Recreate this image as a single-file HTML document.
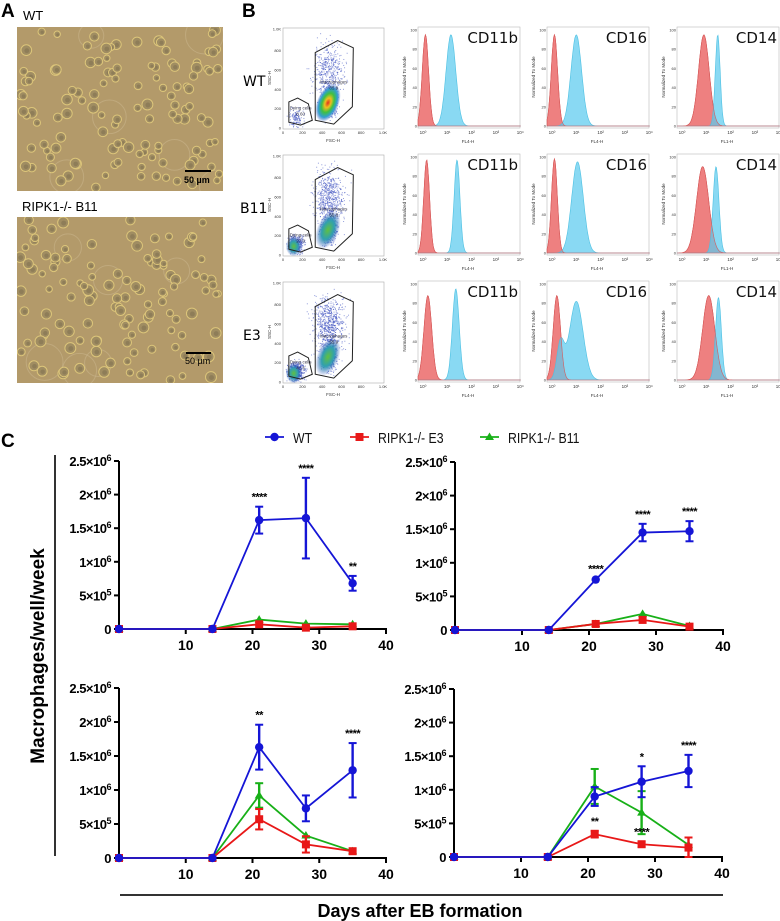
<!DOCTYPE html>
<html><head><meta charset="utf-8">
<style>
html,body{margin:0;padding:0;background:#fff;}
svg{display:block;font-family:"Liberation Sans",sans-serif;}
</style></head>
<body>
<svg id="fig" width="780" height="921" viewBox="0 0 780 921" xmlns="http://www.w3.org/2000/svg">
<defs>
<radialGradient id="jet" cx="50%" cy="50%" r="50%">
<stop offset="0" stop-color="#e03020"/><stop offset="0.25" stop-color="#f0c020"/><stop offset="0.5" stop-color="#40c040"/><stop offset="0.75" stop-color="#30a0d0"/><stop offset="1" stop-color="#3050c0" stop-opacity="0"/>
</radialGradient>
<radialGradient id="jet2" cx="50%" cy="50%" r="50%">
<stop offset="0" stop-color="#60c040"/><stop offset="0.5" stop-color="#30a0b0"/><stop offset="1" stop-color="#3050c0" stop-opacity="0"/>
</radialGradient>
<clipPath id="clipA1"><rect x="17" y="27" width="206" height="164"/></clipPath>
<clipPath id="clipA2"><rect x="17" y="217" width="206" height="166"/></clipPath>
</defs>
<g id="panelA"></g>
<g id="panelB"></g>
<g id="panelC"></g>
</svg>
<script>
// ---- Panel C data (values in units of 1e6 cells) ----
const days = [0, 14, 21, 28, 35];
const yTicks = [0, 0.5, 1, 1.5, 2, 2.5];
const yTickLabels = ["0", "5×10<5>", "1×10<6>", "1.5×10<6>", "2×10<6>", "2.5×10<6>"];
const xTicks = [10, 20, 30, 40];
const seriesNames = ["WT", "RIPK1-/- E3", "RIPK1-/- B11"];

const tlWT = [0, 0, 1.62, 1.65, 0.68];
const tlWTerr = [0, 0, 0.2, 0.6, 0.11];
const tlE3 = [0, 0, 0.07, 0.02, 0.04];
const tlE3err = [0, 0, 0.02, 0.01, 0.01];
const tlB11 = [0, 0, 0.14, 0.08, 0.07];
const tlB11err = [0, 0, 0.02, 0.01, 0.01];

const trWT = [0, 0, 0.75, 1.45, 1.47];
const trWTerr = [0, 0, 0.02, 0.13, 0.15];
const trE3 = [0, 0, 0.09, 0.15, 0.05];
const trE3err = [0, 0, 0.02, 0.02, 0.02];
const trB11 = [0, 0, 0.09, 0.24, 0.06];
const trB11err = [0, 0, 0.01, 0.02, 0.01];

const blWT = [0, 0, 1.63, 0.73, 1.29];
const blWTerr = [0, 0, 0.33, 0.19, 0.4];
const blE3 = [0, 0, 0.57, 0.2, 0.1];
const blE3err = [0, 0, 0.15, 0.12, 0.01];
const blB11 = [0, 0, 0.92, 0.33, 0.1];
const blB11err = [0, 0, 0.18, 0.03, 0.01];

const brWT = [0, 0, 0.9, 1.12, 1.28];
const brWTerr = [0, 0, 0.14, 0.23, 0.24];
const brE3 = [0, 0, 0.34, 0.19, 0.14];
const brE3err = [0, 0, 0.05, 0.04, 0.15];
const brB11 = [0, 0, 1.05, 0.66, 0.18];
const brB11err = [0, 0, 0.26, 0.32, 0.01];

const tlStars = [["WT", 2, "****"], ["WT", 3, "****"], ["WT", 4, "**"]];
const trStars = [["WT", 2, "****"], ["WT", 3, "****"], ["WT", 4, "****"]];
const blStars = [["WT", 2, "**"], ["WT", 4, "****"]];
const brStars = [["WT", 3, "*"], ["WT", 4, "****"], ["E3", 2, "**"], ["E3", 3, "****"]];

const NS = "http://www.w3.org/2000/svg";
function mk(parent, tag, attrs, text) {
  const e = document.createElementNS(NS, tag);
  for (const k in attrs) e.setAttribute(k, attrs[k]);
  if (text !== undefined) e.textContent = text;
  parent.appendChild(e);
  return e;
}
function rng(seed) { let s = seed >>> 0; return () => { s = (s * 1664525 + 1013904223) >>> 0; return s / 4294967296; }; }
function gauss(r) { return (r() + r() + r() + r() - 2) * 1.2; }

// ---------------- Panel A ----------------
const A = document.getElementById('panelA');
let t;
t = mk(A, 'text', {x: 1, y: 17, 'font-size': 19, 'font-weight': 'bold'}, 'A');
 
t = mk(A, 'text', {x: 23, y: 20, 'font-size': 13}, 'WT');
 
t = mk(A, 'text', {x: 22, y: 211, 'font-size': 13}, 'RIPK1-/- B11');
 
function micro(y0, h, seed, name, clip) {
  const g = mk(A, 'g', {'clip-path': 'url(#' + clip + ')'});
   
  mk(g, 'rect', {x: 17, y: y0, width: 206, height: h, fill: '#b39a6a'});
  const r = rng(seed);
  for (let i = 0; i < 6; i++) {
    mk(g, 'circle', {cx: 19 + r() * 200, cy: y0 + r() * h, r: 12 + r() * 8, fill: 'none', stroke: '#c8b48a', 'stroke-width': 1, opacity: 0.6});
  }
  for (let i = 0; i < 120; i++) {
    const cx = 20 + r() * 200, cy = y0 + 3 + r() * (h - 6), rad = 3.2 + r() * 2.3;
    mk(g, 'circle', {cx: cx, cy: cy, r: rad, fill: '#a08d62', stroke: '#dcc57a', 'stroke-width': 1});
    mk(g, 'circle', {cx: cx + 0.5, cy: cy + 0.5, r: rad * 0.45, fill: '#7f7150', opacity: 0.55});
  }
  return g;
}
const m1 = micro(27, 164, 7, 'wt-micrograph', 'clipA1');
mk(m1, 'line', {x1: 185, y1: 171, x2: 211, y2: 171, stroke: '#000', 'stroke-width': 2});
mk(m1, 'text', {x: 184, y: 183, 'font-size': 9, 'font-weight': 'bold'}, '50 µm');
const m2 = micro(217, 166, 21, 'b11-micrograph', 'clipA2');
mk(m2, 'line', {x1: 186, y1: 353, x2: 211, y2: 353, stroke: '#000', 'stroke-width': 2});
mk(m2, 'text', {x: 185, y: 364, 'font-size': 9}, '50 µm');

// ---------------- Panel B ----------------
const B = document.getElementById('panelB');
t = mk(B, 'text', {x: 242, y: 17, 'font-size': 19, 'font-weight': 'bold'}, 'B');
 
const rowTop = [28, 155, 282];
const rowNames = ['WT', 'B11', 'E3'];
const dying = ['8.60', '27.0', '41.6'];
const macro = ['85.9', '65.8', '55.9'];
const histCols = [418, 547, 677];
const markers = ['CD11b', 'CD16', 'CD14'];
const xlab = ['FL4-H', 'FL4-H', 'FL1-H'];
const peaks = [
  [[0.1,0.13,95,1.15,0.2,95],[0.1,0.13,95,1.0,0.22,95],[0.9,0.22,95,1.47,0.1,95]],
  [[0.15,0.12,97,1.4,0.12,97],[0.1,0.12,98,1.05,0.24,95],[0.85,0.25,90,1.4,0.12,90]],
  [[0.2,0.16,88,1.35,0.14,95],[0.2,0.15,88,1.0,0.28,82],[1.1,0.25,88,1.5,0.12,86]]
];
function dotPlot(x0, y0, ri) {
  const g = mk(B, 'g', {});
   
  const X = v => x0 + v / 1024 * 100, Y = v => y0 + 100 - v / 1024 * 99;
  mk(g, 'rect', {x: x0, y: y0, width: 101, height: 101, fill: '#fff', stroke: '#aaa', 'stroke-width': 0.6});
  const r = rng(100 + ri * 17);
  const n = [1100, 1500, 1700][ri];
  for (let i = 0; i < n; i++) {
    let vx, vy, k = r();
    const dyf = [0.12, 0.25, 0.33][ri];
    if (k < dyf) { vx = 130 + gauss(r) * 55; vy = 110 + gauss(r) * 65; }
    else if (k < 0.6) { vx = 470 + gauss(r) * 55; vy = 280 + gauss(r) * 110; }
    else { vx = 460 + gauss(r) * 110; vy = 600 + gauss(r) * 200; }
    if (vx < 0 || vx > 1024 || vy < 0 || vy > 1024) continue;
    mk(g, 'rect', {x: X(vx), y: Y(vy), width: 1, height: 1, fill: '#3a4fc0', opacity: 0.55});
  }
  mk(g, 'ellipse', {cx: X(460), cy: Y(260), rx: 11, ry: 20, fill: ri === 0 ? 'url(#jet)' : 'url(#jet2)', transform: `rotate(22 ${X(460)} ${Y(260)})`});
  if (ri > 0) mk(g, 'ellipse', {cx: X(110), cy: Y(90), rx: 8, ry: 10, fill: 'url(#jet2)'});
  const mac = [[330,780],[560,905],[720,830],[710,220],[520,40],[330,80]];
  const dy = [[60,270],[150,310],[260,250],[300,80],[180,30],[60,60]];
  mk(g, 'polygon', {points: mac.map(p => X(p[0]) + ',' + Y(p[1])).join(' '), fill: 'none', stroke: '#222', 'stroke-width': 1});
  mk(g, 'polygon', {points: dy.map(p => X(p[0]) + ',' + Y(p[1])).join(' '), fill: 'none', stroke: '#222', 'stroke-width': 1});
  mk(g, 'text', {x: X(520), y: Y(460), 'font-size': 4.5, fill: '#334', 'text-anchor': 'middle'}, 'Macrophages');
  mk(g, 'text', {x: X(520), y: Y(400), 'font-size': 4.5, fill: '#334', 'text-anchor': 'middle'}, macro[ri]);
  mk(g, 'text', {x: X(180), y: Y(190), 'font-size': 4.5, fill: '#334', 'text-anchor': 'middle'}, 'Dying cells');
  mk(g, 'text', {x: X(180), y: Y(130), 'font-size': 4.5, fill: '#334', 'text-anchor': 'middle'}, dying[ri]);
  ['0','200','400','600','800','1.0K'].forEach((s, i) => {
    const v = i * 200 * (i === 5 ? 1.024 : 1);
    mk(g, 'text', {x: X(v), y: y0 + 106, 'font-size': 4, 'text-anchor': 'middle', fill: '#333'}, s);
    mk(g, 'text', {x: x0 - 2, y: Y(v) + 1.5, 'font-size': 4, 'text-anchor': 'end', fill: '#333'}, s);
  });
  mk(g, 'text', {x: x0 + 50, y: y0 + 114, 'font-size': 4.5, 'text-anchor': 'middle', fill: '#333'}, 'FSC-H');
  mk(g, 'text', {x: x0 - 12, y: y0 + 50, 'font-size': 4.5, 'text-anchor': 'middle', fill: '#333', transform: `rotate(-90 ${x0 - 12} ${y0 + 50})`}, 'SSC-H');
}
function histo(x0, y0, ri, ci) {
  const g = mk(B, 'g', {});
   
  mk(g, 'rect', {x: x0, y: y0, width: 102, height: 101, fill: '#fff', stroke: '#bbb', 'stroke-width': 0.6});
  const X = L => x0 + 5 + L * 24.3, Y = v => y0 + 99 - v * 0.96;
  const p = peaks[ri][ci];
  function path(c, sd, h, extra) {
    let d = `M${X(-0.2)},${Y(0)}`;
    for (let L = -0.2; L <= 4.02; L += 0.03) {
      let v = h * Math.exp(-0.5 * ((L - c) / sd) ** 2);
      if (extra) v += extra(L);
      d += ` L${X(L).toFixed(1)},${Y(v).toFixed(1)}`;
    }
    return d + ` L${X(4.02)},${Y(0)} Z`;
  }
  const ex = (ri === 2 && ci === 1) ? (L => 38 * Math.exp(-0.5 * ((L - 0.35) / 0.15) ** 2)) : null;
  mk(g, 'path', {d: path(p[0], p[1], p[2]), fill: '#ee8080', stroke: '#d85050', 'stroke-width': 0.6});
  mk(g, 'path', {d: path(p[3], p[4], p[5], ex), fill: '#5ccbee', 'fill-opacity': 0.72, stroke: '#4cc0e2', 'stroke-width': 0.6});
  mk(g, 'path', {d: path(p[0], p[1], p[2]), fill: 'none', stroke: '#d86060', 'stroke-width': 0.6});
  mk(g, 'text', {x: x0 + 100, y: y0 + 16, 'font-size': 15, 'text-anchor': 'end', fill: '#111', 'font-family': 'DejaVu Sans, sans-serif'}, markers[ci]);
  [0,1,2,3,4].forEach(k => {
    mk(g, 'text', {x: X(k), y: y0 + 107, 'font-size': 4.5, 'text-anchor': 'middle', fill: '#333'}, '10' + String.fromCharCode([8304,185,178,179,8308][k]));
  });
  [0,20,40,60,80,100].forEach(v => mk(g, 'text', {x: x0 - 1, y: Y(v) + 1.5, 'font-size': 4, 'text-anchor': 'end', fill: '#333'}, String(v)));
  mk(g, 'text', {x: x0 + 50, y: y0 + 116, 'font-size': 4.5, 'text-anchor': 'middle', fill: '#333'}, xlab[ci]);
  mk(g, 'text', {x: x0 - 12, y: y0 + 50, 'font-size': 4.5, 'text-anchor': 'middle', fill: '#333', transform: `rotate(-90 ${x0 - 12} ${y0 + 50})`}, 'Normalized To Mode');
}
rowTop.forEach((y0, ri) => {
  t = mk(B, 'text', {x: [243, 240, 243][ri], y: y0 + 58, 'font-size': 14, 'font-family': 'DejaVu Sans, sans-serif'}, rowNames[ri]);
   
  dotPlot(283, y0, ri);
  histCols.forEach((x0, ci) => histo(x0, y0 - 1, ri, ci));
});

// ---------------- Panel C ----------------
const C = document.getElementById('panelC');
const BLUE = '#1515d6', RED = '#e81818', GREEN = '#18b018';
t = mk(C, 'text', {x: 1, y: 447, 'font-size': 19, 'font-weight': 'bold'}, 'C');
 

function marker(g, kind, x, y, col) {
  if (kind === 'WT') return mk(g, 'circle', {cx: x, cy: y, r: 4.2, fill: col});
  if (kind === 'E3') return mk(g, 'rect', {x: x - 4, y: y - 4, width: 8, height: 8, fill: col});
  return mk(g, 'polygon', {points: `${x},${y - 4.5} ${x + 4.5},${y + 3} ${x - 4.5},${y + 3}`, fill: col});
}
const legend = mk(C, 'g', {});
 
const legX = [265, 350, 480], legCol = [BLUE, RED, GREEN], legKind = ['WT', 'E3', 'B11'];
seriesNames.forEach((nm, i) => {
  const e = mk(legend, 'g', {});
   
  mk(e, 'line', {x1: legX[i], y1: 437, x2: legX[i] + 19, y2: 437, stroke: legCol[i], 'stroke-width': 1.8});
  marker(e, legKind[i], legX[i] + 9.5, 437, legCol[i]);
  mk(e, 'text', {x: legX[i] + 28, y: 443, 'font-size': 15, fill: '#111', transform: `scale(0.82,1) translate(${(legX[i] + 28) * (1 / 0.82 - 1)},0)`}, nm);
});

function chart(name, x0, x1, yb, yt, W, We, E, Ee, G, Ge, stars) {
  const g = mk(C, 'g', {});
   
  const X = d => x0 + (x1 - x0) * d / 40, Y = v => yb - (yb - yt) * v / 2.5;
  const ax = mk(g, 'g', {});
   
  mk(ax, 'line', {x1: x0, y1: yb + 1, x2: x0, y2: yt, stroke: '#000', 'stroke-width': 2});
  yTicks.forEach((v, i) => {
    mk(ax, 'line', {x1: x0 - 5, y1: Y(v), x2: x0, y2: Y(v), stroke: '#000', 'stroke-width': 2});
    const lab = yTickLabels[i];
    const tt = mk(ax, 'text', {x: x0 - 8, y: Y(v) + 5, 'font-size': 13, 'font-weight': 'bold', 'text-anchor': 'end', 'letter-spacing': '-0.5'});
    const m = lab.match(/^(.*)<(\d)>$/);
    if (m) {
      mk(tt, 'tspan', {}, m[1]);
      mk(tt, 'tspan', {'font-size': 9, dy: -5}, m[2]);
    } else tt.textContent = lab;
  });
  const bx = mk(g, 'g', {});
   
  mk(bx, 'line', {x1: x0 - 1, y1: yb, x2: x1 + 1, y2: yb, stroke: '#000', 'stroke-width': 2});
  xTicks.forEach(d => {
    mk(bx, 'line', {x1: X(d), y1: yb, x2: X(d), y2: yb + 5, stroke: '#000', 'stroke-width': 2});
    mk(bx, 'text', {x: X(d), y: yb + 21, 'font-size': 14, 'font-weight': 'bold', 'text-anchor': 'middle'}, String(d));
  });
  const series = [['B11', G, Ge, GREEN], ['E3', E, Ee, RED], ['WT', W, We, BLUE]];
  const map = {};
  series.forEach(([k, vals, errs, col]) => {
    map[k] = [vals, errs];
    const sg = mk(g, 'g', {});
     
    mk(sg, 'polyline', {points: days.map((d, i) => X(d) + ',' + Y(vals[i])).join(' '), fill: 'none', stroke: col, 'stroke-width': 1.8});
    days.forEach((d, i) => {
      if (errs[i] > 0.03) {
        const cx = X(d), hi = Y(vals[i] + errs[i]), lo = Y(Math.max(0, vals[i] - errs[i]));
        mk(sg, 'line', {x1: cx, y1: hi, x2: cx, y2: lo, stroke: col, 'stroke-width': 2.4});
        mk(sg, 'line', {x1: cx - 4, y1: hi, x2: cx + 4, y2: hi, stroke: col, 'stroke-width': 2});
        mk(sg, 'line', {x1: cx - 4, y1: lo, x2: cx + 4, y2: lo, stroke: col, 'stroke-width': 2});
      }
      const mkr = marker(sg, k, X(d), Y(vals[i]), col);
      
      
    });
  });
  stars.forEach(([k, i, s]) => {
    const [vals, errs] = map[k];
    const st = mk(g, 'text', {x: X(days[i]), y: Y(vals[i] + errs[i]) - 6, 'font-size': 11, 'font-weight': 'bold', 'text-anchor': 'middle', 'letter-spacing': '-0.5'}, s);
     
  });
}
chart('chart-top-left', 119, 386, 629, 461, tlWT, tlWTerr, tlE3, tlE3err, tlB11, tlB11err, tlStars);
chart('chart-top-right', 455, 723, 630, 462, trWT, trWTerr, trE3, trE3err, trB11, trB11err, trStars);
chart('chart-bottom-left', 119, 386, 858, 688, blWT, blWTerr, blE3, blE3err, blB11, blB11err, blStars);
chart('chart-bottom-right', 454, 722, 857, 689, brWT, brWTerr, brE3, brE3err, brB11, brB11err, brStars);

mk(C, 'line', {x1: 55, y1: 455, x2: 55, y2: 856, stroke: '#333', 'stroke-width': 2});
t = mk(C, 'text', {x: 44, y: 656, 'font-size': 19, 'font-weight': 'bold', 'text-anchor': 'middle', transform: 'rotate(-90 44 656)'}, 'Macrophages/well/week');
 
mk(C, 'line', {x1: 120, y1: 895, x2: 723, y2: 895, stroke: '#333', 'stroke-width': 2});
t = mk(C, 'text', {x: 420, y: 917, 'font-size': 18, 'font-weight': 'bold', 'text-anchor': 'middle'}, 'Days after EB formation');
 
</script>
</body></html>
